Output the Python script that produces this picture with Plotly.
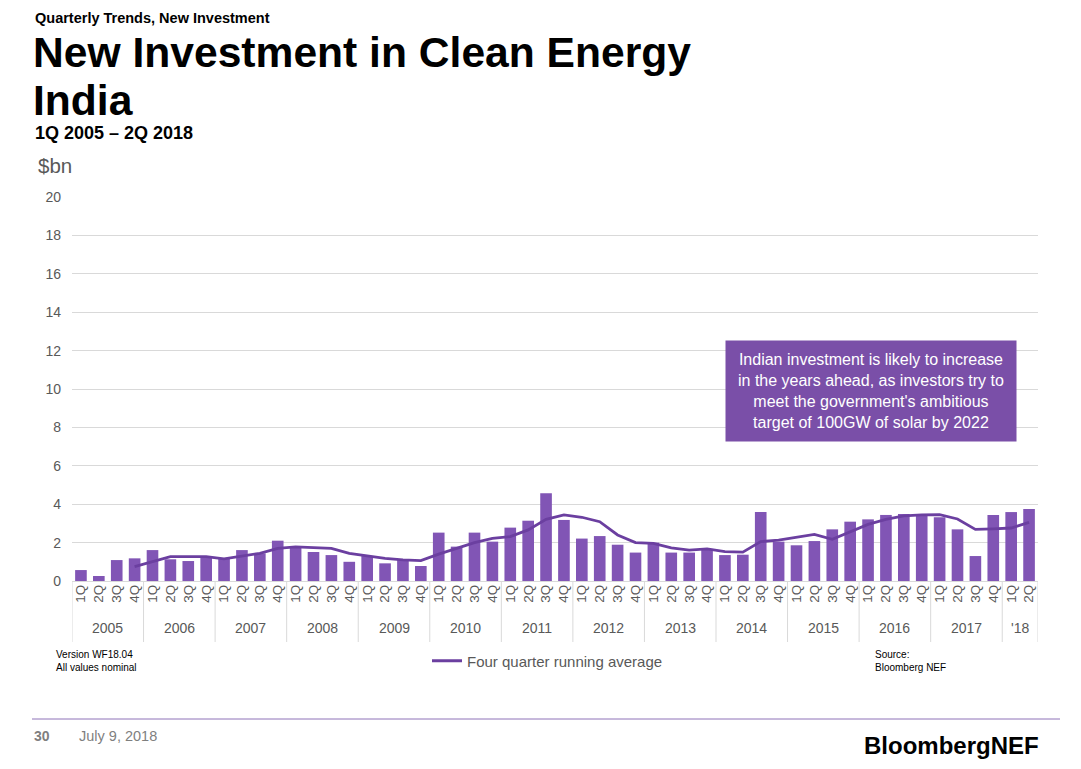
import plotly.graph_objects as go

years = ["2005", "2006", "2007", "2008", "2009", "2010", "2011", "2012",
         "2013", "2014", "2015", "2016", "2017", "'18"]
quarters_per_year = [4] * 13 + [2]
quarter_names = ["1Q", "2Q", "3Q", "4Q"]

investment = [
    0.57, 0.26, 1.09, 1.18,   # 2005
    1.61, 1.13, 1.04, 1.25,   # 2006
    1.15, 1.61, 1.44, 2.10,   # 2007
    1.75, 1.51, 1.35, 1.00,   # 2008
    1.30, 0.92, 1.13, 0.78,   # 2009
    2.52, 1.79, 2.52, 2.05,   # 2010
    2.78, 3.14, 4.57, 3.18,   # 2011
    2.21, 2.34, 1.89, 1.48,   # 2012
    2.00, 1.48, 1.48, 1.67,   # 2013
    1.35, 1.37, 3.59, 2.05,   # 2014
    1.86, 2.08, 2.69, 3.09,   # 2015
    3.21, 3.44, 3.49, 3.44,   # 2016
    3.32, 2.69, 1.30, 3.44,   # 2017
    3.59, 3.75,               # 2018
]

running_avg = [
    None, None, None, 0.75,   # 2005
    1.00, 1.27, 1.27, 1.27,   # 2006
    1.15, 1.30, 1.44, 1.70,   # 2007
    1.78, 1.74, 1.70, 1.44,   # 2008
    1.32, 1.18, 1.10, 1.06,   # 2009
    1.40, 1.70, 2.00, 2.22,   # 2010
    2.31, 2.66, 3.21, 3.44,   # 2011
    3.32, 3.09, 2.40, 2.00,   # 2012
    1.96, 1.73, 1.61, 1.67,   # 2013
    1.53, 1.50, 2.05, 2.13,   # 2014
    2.27, 2.43, 2.17, 2.57,   # 2015
    2.95, 3.21, 3.39, 3.44,   # 2016
    3.46, 3.23, 2.69, 2.72,   # 2017
    2.76, 3.05,               # 2018
]

quarter_labels = []
for n in quarters_per_year:
    quarter_labels += quarter_names[:n]
xidx = list(range(len(quarter_labels)))

BAR = "#8155B5"
LINE = "#6B3FA0"
GREY = "#595959"
FONT = "Liberation Sans, Arial, sans-serif"

fig = go.Figure()
fig.add_trace(go.Bar(x=xidx, y=investment, marker_color=BAR, marker_line_width=0,
                     showlegend=False, name="New investment"))
fig.add_trace(go.Scatter(x=xidx, y=running_avg, mode="lines",
                         line=dict(color=LINE, width=2.8),
                         name="Four quarter running average", showlegend=True))

# page offset (body margin) and plot area in page pixels
OFF = 8
FW, FH = 1081 - OFF, 769 - OFF
L, R, T, B = 72, 1038, 197, 581
W, H = R - L, B - T
def px(p):
    return (p - L) / W
def py(p):
    return (B - p) / H

annotations = []
shapes = []

# year labels and separators
start = 0
for yr, n in zip(years, quarters_per_year):
    annotations.append(dict(x=start + (n - 1) / 2, y=py(628), xref="x", yref="paper",
                            text=yr, showarrow=False, xanchor="center", yanchor="middle",
                            font=dict(size=14, color=GREY, family=FONT)))
    shapes.append(dict(type="line", xref="x", yref="paper", x0=start - 0.5, x1=start - 0.5,
                       y0=0, y1=py(642), line=dict(color="#D9D9D9", width=1)))
    start += n
shapes.append(dict(type="line", xref="x", yref="paper", x0=start - 0.5, x1=start - 0.5,
                   y0=0, y1=py(642), line=dict(color="#D9D9D9", width=1)))

# titles and footers
texts = [
    dict(x=px(33), y=py(18), text="<b>Quarterly Trends, New Investment</b>",
         font=dict(size=14.5, color="black", family=FONT)),
    dict(x=px(31), y=py(52), text="<b>New Investment in Clean Energy</b>",
         font=dict(size=42.6, color="black", family=FONT)),
    dict(x=px(31), y=py(100), text="<b>India</b>",
         font=dict(size=42.6, color="black", family=FONT)),
    dict(x=px(33), y=py(133), text="<b>1Q 2005 – 2Q 2018</b>",
         font=dict(size=18, color="black", family=FONT)),
    dict(x=px(36), y=py(166), text="$bn",
         font=dict(size=20.5, color=GREY, family=FONT)),
    dict(x=px(54), y=py(661), text="Version WF18.04<br>All values nominal",
         font=dict(size=10, color="black", family=FONT)),
    dict(x=px(873), y=py(661), text="Source:<br>Bloomberg NEF",
         font=dict(size=10, color="black", family=FONT)),
    dict(x=px(32), y=py(736), text="<b>30</b>",
         font=dict(size=14, color="#7F7F7F", family=FONT)),
    dict(x=px(77), y=py(736), text="July 9, 2018",
         font=dict(size=14.5, color="#7F7F7F", family=FONT)),
]
for a in texts:
    a.update(xref="paper", yref="paper", showarrow=False, xanchor="left",
             yanchor="middle", align="left")
annotations += texts

annotations.append(dict(x=px(1041), y=py(745), xref="paper", yref="paper",
                        text="<b>BloombergNEF</b>", showarrow=False,
                        xanchor="right", yanchor="middle",
                        font=dict(size=24, color="black", family=FONT)))

# callout box
annotations.append(dict(
    x=px(871), y=py(391), xref="paper", yref="paper", showarrow=False,
    xanchor="center", yanchor="middle", align="center",
    text=("Indian investment is likely to increase<br>in the years ahead, as investors try to"
          "<br>meet the government's ambitious<br>target of 100GW of solar by 2022"),
    font=dict(size=16, color="white", family=FONT),
    bgcolor="#7A4FA8", width=290, height=100, borderpad=0))

# bottom rule
shapes.append(dict(type="line", xref="paper", yref="paper", x0=px(32), x1=px(1060),
                   y0=py(719), y1=py(719), line=dict(color="#8E72B8", width=1)))

fig.update_layout(
    width=FW, height=FH,
    margin=dict(l=L - OFF, r=FW - (R - OFF), t=T - OFF, b=FH - (B - OFF), pad=0),
    paper_bgcolor="white", plot_bgcolor="white",
    font=dict(family=FONT, color=GREY),
    bargap=0.35,
    annotations=annotations, shapes=shapes,
    legend=dict(orientation="h", x=px(427), y=py(661), xanchor="left", yanchor="middle",
                font=dict(size=15, color=GREY, family=FONT), bgcolor="rgba(0,0,0,0)"),
    xaxis=dict(range=[-0.5, len(xidx) - 0.5], tickmode="array", tickvals=xidx,
               ticktext=quarter_labels, tickangle=-90, showgrid=False, zeroline=False,
               ticks="", showline=False, tickfont=dict(size=13.5, color=GREY, family=FONT),
               fixedrange=True),
    yaxis=dict(range=[0, 20], tickmode="array", tickvals=list(range(0, 21, 2)),
               showgrid=True, gridcolor="#D9D9D9", gridwidth=1, zeroline=True,
               zerolinecolor="#D9D9D9", zerolinewidth=1, ticks="", showline=False,
               tickfont=dict(size=14, color=GREY, family=FONT), ticklabelstandoff=10,
               fixedrange=True),
)

fig.write_html("out.html")
